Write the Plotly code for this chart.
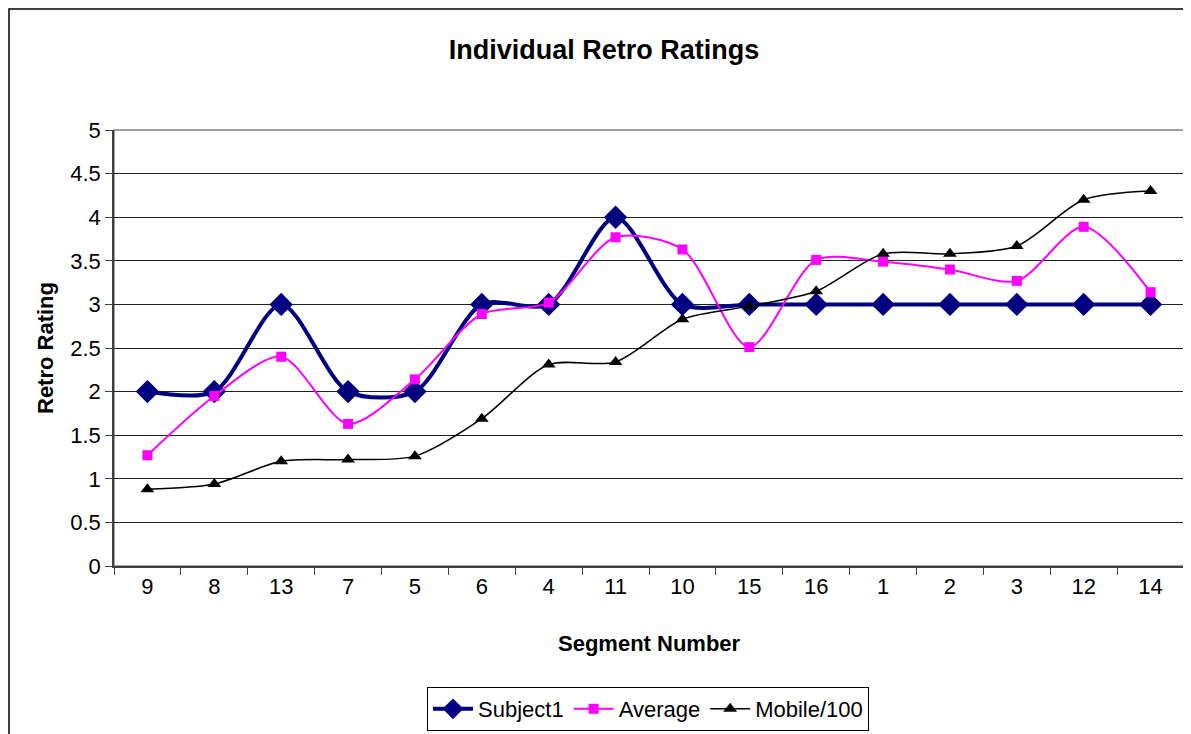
import plotly.graph_objects as go

segments = ["9", "8", "13", "7", "5", "6", "4", "11", "10", "15", "16", "1", "2", "3", "12", "14"]
subject1 = [2, 2, 3, 2, 2, 3, 3, 4, 3, 3, 3, 3, 3, 3, 3, 3]
average = [1.27, 1.95, 2.40, 1.63, 2.14, 2.89, 3.02, 3.77, 3.63, 2.51, 3.51, 3.49, 3.40, 3.27, 3.89, 3.14]
mobile100 = [0.88, 0.94, 1.20, 1.22, 1.26, 1.69, 2.31, 2.34, 2.83, 2.98, 3.15, 3.58, 3.58, 3.67, 4.20, 4.30]
y_ticks = [0, 0.5, 1, 1.5, 2, 2.5, 3, 3.5, 4, 4.5, 5]

# page body adds an 8px offset; compensate so the picture lands where the reference is
OFF = 8
W, H = 1191 - OFF, 734 - OFF
L, R, T, B = 114 - OFF, 1184 - OFF, 130 - OFF, 566 - OFF
FONT = "Liberation Sans, Arial, sans-serif"

fig = go.Figure()
fig.add_trace(go.Scatter(
    x=segments, y=subject1, name="Subject1", mode="lines+markers",
    line=dict(color="#000080", width=4, shape="spline", smoothing=0.8),
    marker=dict(symbol="diamond", size=18, color="#000080"),
))
fig.add_trace(go.Scatter(
    x=segments, y=average, name="Average", mode="lines+markers",
    line=dict(color="#FF00FF", width=2, shape="spline", smoothing=0.8),
    marker=dict(symbol="square", size=10, color="#FF00FF"),
))
fig.add_trace(go.Scatter(
    x=segments, y=mobile100, name="Mobile/100", mode="lines+markers",
    line=dict(color="#000000", width=1.5, shape="spline", smoothing=0.8),
    marker=dict(symbol="triangle-up", size=12, color="#000000"),
))

pw, ph = R - L, B - T

def px_x(x):
    return (x - OFF - L) / pw

def px_y(y):
    return (B - (y - OFF)) / ph

fig.update_layout(
    width=W, height=H,
    margin=dict(l=L, r=W - R, t=T, b=H - B, autoexpand=False),
    paper_bgcolor="white", plot_bgcolor="white",
    font=dict(family=FONT, size=22, color="black"),
    title=dict(text="<b>Individual Retro Ratings</b>", x=(604 - OFF) / W, xref="container",
               y=1 - (50 - OFF) / H, yref="container", xanchor="center", yanchor="middle",
               font=dict(size=27, family=FONT, color="black")),
    showlegend=True,
    legend=dict(orientation="h", x=px_x(648), y=px_y(709),
                xanchor="center", yanchor="middle",
                bordercolor="black", borderwidth=1, bgcolor="white",
                font=dict(size=22, family=FONT), itemwidth=40,
                traceorder="normal"),
    xaxis=dict(type="category", categoryorder="array", categoryarray=segments,
               range=[-0.5, len(segments) - 0.5],
               showgrid=False, showline=True, linecolor="#404040", linewidth=1.5,
               ticks="outside", ticklen=7, tickcolor="#404040", tickson="boundaries",
               tickfont=dict(size=22), zeroline=False),
    yaxis=dict(range=[0, 5], tickvals=y_ticks, ticktext=[f"{v:g}" for v in y_ticks],
               showgrid=True, gridcolor="#202020", gridwidth=1,
               showline=True, linecolor="#404040", linewidth=1.5,
               ticks="outside", ticklen=7, tickcolor="#404040",
               tickfont=dict(size=22), zeroline=False),
    shapes=[
        dict(type="rect", xref="x domain", yref="y domain", x0=0, x1=1, y0=0, y1=1,
             line=dict(color="#808080", width=1.5), layer="below"),
        dict(type="rect", xref="paper", yref="paper",
             x0=-(L - 1) / pw, x1=(W + 30 - L) / pw,
             y0=-(H + 30 - B) / ph, y1=(B - 1) / ph,
             line=dict(color="black", width=1.5), layer="below"),
    ],
    annotations=[
        dict(text="<b>Retro Rating</b>", xref="paper", yref="paper",
             x=px_x(45), y=0.5, textangle=-90, showarrow=False,
             xanchor="center", yanchor="middle", font=dict(size=22, family=FONT)),
        dict(text="<b>Segment Number</b>", xref="paper", yref="paper",
             x=px_x(649), y=px_y(643), showarrow=False,
             xanchor="center", yanchor="middle", font=dict(size=22, family=FONT)),
    ],
)

fig.write_html("out.html")
